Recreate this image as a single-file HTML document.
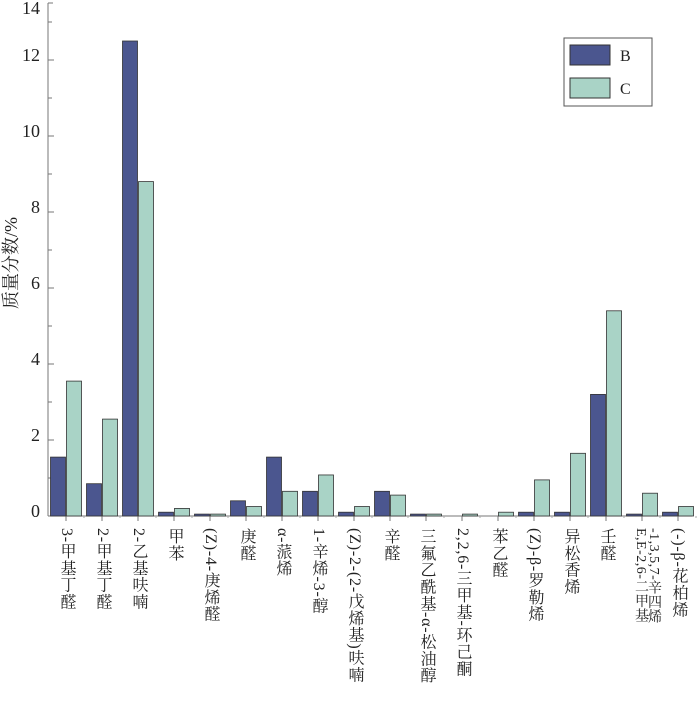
<!DOCTYPE html>
<html><head><meta charset="utf-8"><style>
body{margin:0;background:#fff;}
#wrap{position:relative;width:700px;height:702px;overflow:hidden;font-family:"Liberation Serif","Noto Serif CJK SC",serif;}
.xl{position:absolute;top:528px;writing-mode:vertical-rl;font-size:16px;letter-spacing:0.8px;color:#222;white-space:nowrap;line-height:16px;}
.yl{position:absolute;font-size:18px;color:#222;width:34px;text-align:right;}
</style></head><body>
<div id="wrap">
<svg id="svg" width="700" height="702" style="position:absolute;left:0;top:0"></svg>
<div style="position:absolute;left:-40px;top:250px;transform:rotate(-90deg);font-size:18px;color:#222;white-space:nowrap;width:100px;text-align:center">质量分数/%</div>
</div>
<script>
const categories=["3-甲基丁醛","2-甲基丁醛","2-乙基呋喃","甲苯","(Z)-4-庚烯醛","庚醛","α-蒎烯","1-辛烯-3-醇","(Z)-2-(2-戊烯基)呋喃","辛醛","三氟乙酰基-α-松油醇","2,2,6-三甲基-环己酮","苯乙醛","(Z)-β-罗勒烯","异松香烯","壬醛","E,E-2,6-二甲基\n-1,3,5,7-辛四烯","(-)-β-花柏烯"];
const seriesB=[1.55,0.85,12.5,0.1,0.05,0.4,1.55,0.65,0.1,0.65,0.05,0,0,0.1,0.1,3.2,0.05,0.1];
const seriesC=[3.55,2.55,8.8,0.2,0.05,0.25,0.65,1.08,0.25,0.55,0.05,0.05,0.1,0.95,1.65,5.4,0.6,0.25];
const yTicks=[0,2,4,6,8,10,12,14];
const y0=516,pxPerUnit=38,x0=48,gap=36,c0=66,bw=15;
const yS=v=>y0-v*pxPerUnit;
const xS=i=>c0+i*gap;
const svg=document.getElementById('svg');
const wrap=document.getElementById('wrap');
const NS='http://www.w3.org/2000/svg';
function mk(t,a){const e=document.createElementNS(NS,t);for(const k in a)e.setAttribute(k,a[k]);svg.appendChild(e);return e;}
let ax=mk('line',{x1:x0,y1:3,x2:x0,y2:y0,stroke:'#777','stroke-width':1});


let bx=mk('line',{x1:x0,y1:y0,x2:692,y2:y0,stroke:'#777','stroke-width':1});


for(let v=0;v<=13;v++){const y=yS(v);mk('line',{x1:x0,y1:y,x2:x0+(v%2?4:6),y2:y,stroke:'#777'});}
mk('line',{x1:x0,y1:3,x2:x0+5,y2:3,stroke:'#777'});
yTicks.forEach(v=>{const d=document.createElement('div');d.className='yl';d.textContent=v;


let y=Math.max(yS(v)-4,9);d.style.left='6px';d.style.top=(y-11)+'px';wrap.appendChild(d);});
categories.forEach((c,i)=>{
 const cx=xS(i);
 mk('line',{x1:cx,y1:y0,x2:cx,y2:y0+5,stroke:'#777'});
 mk('line',{x1:cx+gap/2,y1:y0,x2:cx+gap/2,y2:y0+2,stroke:'#aaa'});
 if(seriesB[i]>0){const r=mk('rect',{x:cx-bw-0.5,y:yS(seriesB[i]),width:bw,height:seriesB[i]*pxPerUnit,fill:'#4b568f',stroke:'#333','stroke-width':0.8});
 
 }
 if(seriesC[i]>0){const r=mk('rect',{x:cx+0.5,y:yS(seriesC[i]),width:bw,height:seriesC[i]*pxPerUnit,fill:'#a9d3c6',stroke:'#333','stroke-width':0.8});
 
 }
 const parts=c.split('\n');
 const d=document.createElement('div');d.className='xl';
 
 
 if(parts.length>1){
  d.innerHTML=parts[1]+'<br>'+parts[0];
  d.style.lineHeight='13px';
  d.style.fontSize='14px';
  d.style.letterSpacing='0.5px';
  d.style.left=(cx-8)+'px';
 } else {
  d.textContent=c;
  d.style.left=(cx-8)+'px';
 }
 wrap.appendChild(d);
});
let lg=mk('rect',{x:564,y:38,width:88,height:68,fill:'#fff',stroke:'#555','stroke-width':1});


let s1=mk('rect',{x:570,y:45,width:40,height:20,fill:'#4b568f',stroke:'#333'});


let s2=mk('rect',{x:570,y:78,width:40,height:20,fill:'#a9d3c6',stroke:'#333'});


let t1=mk('text',{x:620,y:61,'font-size':16,fill:'#222','font-family':'Liberation Serif,serif'});t1.textContent='B';


let t2=mk('text',{x:620,y:94,'font-size':16,fill:'#222','font-family':'Liberation Serif,serif'});t2.textContent='C';


</script>
</body></html>
